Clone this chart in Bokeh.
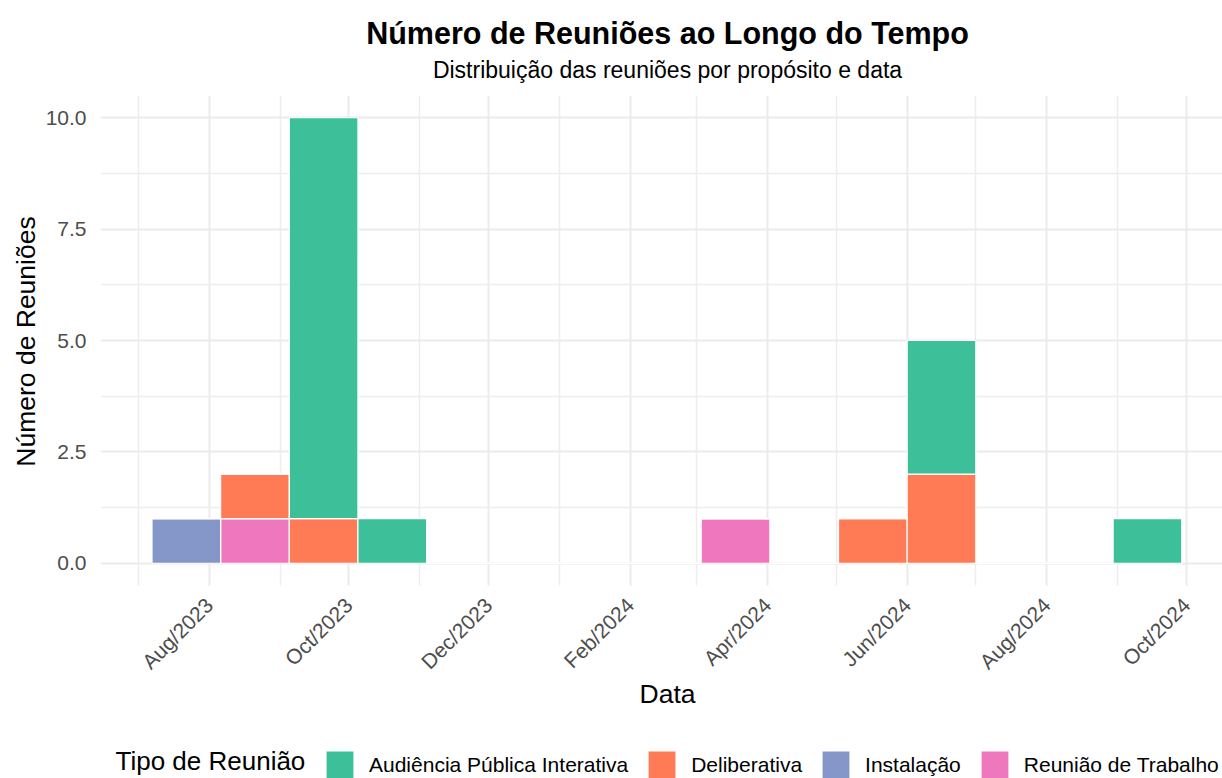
from math import pi
import pandas as pd
from bokeh.plotting import figure
from bokeh.models import (ColumnDataSource, Range1d, FixedTicker, DatetimeTickFormatter,
                          PrintfTickFormatter, Label, Legend, LegendItem, BoxAnnotation)
from bokeh.embed import file_html
from bokeh.resources import INLINE

# ---------------- data ----------------
TITLE = "Número de Reuniões ao Longo do Tempo"
SUBTITLE = "Distribuição das reuniões por propósito e data"
X_TITLE = "Data"
Y_TITLE = "Número de Reuniões"
LEGEND_TITLE = "Tipo de Reunião"

categories = ["Audiência Pública Interativa", "Deliberativa", "Instalação", "Reunião de Trabalho"]
colors = ["#3DBF9A", "#FF7B55", "#8497C8", "#EF77BD"]

# 30-day histogram bins (start dates)
bin_starts = ["2023-07-07", "2023-08-06", "2023-09-05", "2023-10-05", "2023-11-04",
              "2023-12-04", "2024-01-03", "2024-02-02", "2024-03-03", "2024-04-02",
              "2024-05-02", "2024-06-01", "2024-07-01", "2024-07-31", "2024-08-30"]
bin_days = 30

audiencia = [0, 0, 9, 1, 0, 0, 0, 0, 0, 0, 0, 3, 0, 0, 1]
deliberativa = [0, 1, 1, 0, 0, 0, 0, 0, 0, 0, 1, 2, 0, 0, 0]
instalacao = [1, 0, 0, 0, 0, 0, 0, 0, 0, 0, 0, 0, 0, 0, 0]
reuniao_trabalho = [0, 1, 0, 0, 0, 0, 0, 0, 1, 0, 0, 0, 0, 0, 0]

x_major_ticks = ["2023-08-01", "2023-10-01", "2023-12-01", "2024-02-01",
                 "2024-04-01", "2024-06-01", "2024-08-01", "2024-10-01"]
x_minor_ticks = ["2023-07-01", "2023-09-01", "2023-11-01", "2024-01-01",
                 "2024-03-01", "2024-05-01", "2024-07-01", "2024-09-01"]
y_major_ticks = [0, 2.5, 5, 7.5, 10]
y_minor_ticks = [1.25, 3.75, 6.25, 8.75]


def ms(s):
    return pd.Timestamp(s).value / 1e6


DAY_MS = 86400000.0
centers = [ms(s) + bin_days * DAY_MS / 2 for s in bin_starts]

FONT = "Liberation Sans"

# panel (data area) spans y -0.5 .. 10.5 over 490 px; the frame continues below it
Y_LOW, Y_HIGH = -0.5, 10.5
PX_PER_UNIT = 490 / (Y_HIGH - Y_LOW)
frame_bottom_value = Y_LOW - 193 / PX_PER_UNIT

# ---------------- figure ----------------
p = figure(width=1222, height=778, x_axis_type="datetime",
           x_range=Range1d(ms("2023-06-14 12:00"), ms("2024-10-16 19:00")),
           y_range=Range1d(frame_bottom_value, Y_HIGH),
           output_backend="svg", toolbar_location=None,
           min_border_left=100, min_border_right=0, min_border_top=95, min_border_bottom=0)
p.outline_line_color = None
p.background_fill_color = "white"
p.border_fill_color = "white"

xt = FixedTicker(ticks=[ms(t) for t in x_major_ticks], minor_ticks=[ms(t) for t in x_minor_ticks])
yt = FixedTicker(ticks=y_major_ticks, minor_ticks=y_minor_ticks)
p.xaxis.ticker = xt
p.yaxis.ticker = yt
p.xgrid.ticker = xt
p.ygrid.ticker = yt

for g in (p.xgrid, p.ygrid):
    g.grid_line_color = "#EBEBEB"
    g.grid_line_width = 2
    g.minor_grid_line_color = "#EDEDED"
    g.minor_grid_line_width = 1.5

# white mask: grid lines stop at the bottom of the data panel
p.add_layout(BoxAnnotation(top=Y_LOW, fill_color="white", fill_alpha=1.0,
                           line_alpha=0, level="underlay"))

fmt = "%b/%Y"
p.xaxis.formatter = DatetimeTickFormatter(days=fmt, months=fmt, years=fmt, hours=fmt,
                                          hourmin=fmt, minutes=fmt, minsec=fmt, seconds=fmt,
                                          milliseconds=fmt, microseconds=fmt)
p.yaxis.formatter = PrintfTickFormatter(format="%.1f")
p.xaxis.major_label_orientation = pi / 4
p.xaxis.fixed_location = Y_LOW

for ax in (p.xaxis, p.yaxis):
    ax.axis_line_color = None
    ax.major_tick_line_color = None
    ax.minor_tick_line_color = None
    ax.major_tick_out = 0
    ax.major_tick_in = 0
    ax.major_label_text_font = FONT
    ax.major_label_text_font_size = "21px"
    ax.major_label_text_color = "#4D4D4D"
p.yaxis.major_label_standoff = 10
p.xaxis.major_label_standoff = 12

# ---------------- bars ----------------
source = ColumnDataSource(dict(x=centers, reuniao=reuniao_trabalho, instalacao=instalacao,
                               deliberativa=deliberativa, audiencia=audiencia))
stack_order = ["reuniao", "instalacao", "deliberativa", "audiencia"]
stack_colors = [colors[3], colors[2], colors[1], colors[0]]
renderers = p.vbar_stack(stack_order, x="x", width=bin_days * DAY_MS, source=source,
                         fill_color=stack_colors, line_color="white", line_width=1.2)
rmap = dict(zip(stack_order, renderers))
legend_renderers = [rmap["audiencia"], rmap["deliberativa"], rmap["instalacao"], rmap["reuniao"]]

# ---------------- legend ----------------
legend = Legend(items=[LegendItem(label=c, renderers=[r]) for c, r in zip(categories, legend_renderers)],
                orientation="horizontal", location=(222, -4),
                glyph_width=35, glyph_height=35, label_standoff=12, spacing=16,
                padding=0, margin=0, border_line_color=None, background_fill_alpha=0,
                label_text_font=FONT, label_text_font_size="21px", label_text_color="black",
                label_height=35)
p.add_layout(legend)


def lab(text, x, y, size, side=None, align="center", angle=0, bold=False, color="black"):
    l = Label(x=x, y=y, x_units="canvas", y_units="canvas", text=text,
              text_align=align, text_baseline="alphabetic", angle=angle,
              text_font=FONT, text_font_size=size,
              text_font_style="bold" if bold else "normal", text_color=color)
    if side is None:
        p.add_layout(l)
    else:
        p.add_layout(l, side)


lab(TITLE, 667, 32, "30.5px", "above", bold=True)
lab(SUBTITLE, 667, 69.5, "23px", "above")
lab(Y_TITLE, 25, 341, "26.5px", "left", angle=pi / 2)
lab(X_TITLE, 667, 693, "26.5px")
lab(LEGEND_TITLE, 115, 760, "26px", align="left")

open("out.html", "w").write(file_html(p, INLINE))
